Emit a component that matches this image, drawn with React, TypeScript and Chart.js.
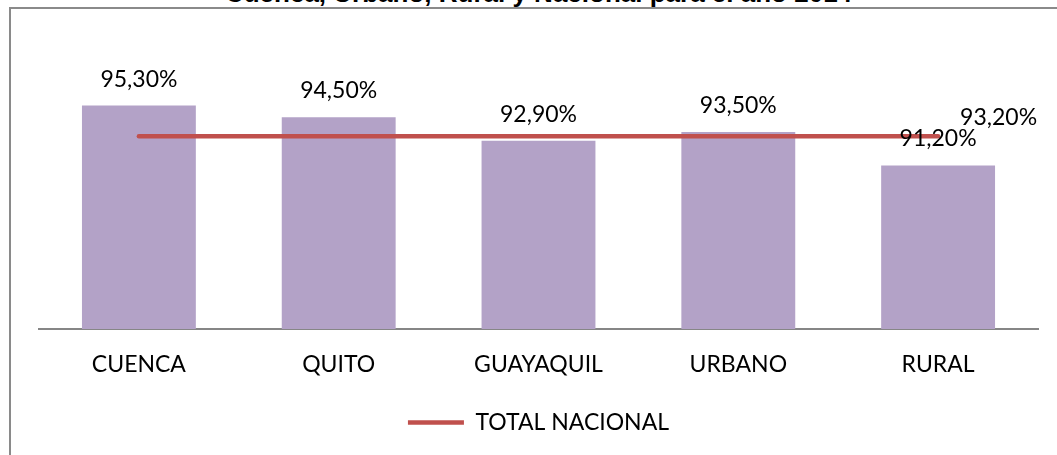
import React, { useEffect, useRef } from "react";
import { Chart, registerables } from "chart.js";

Chart.register(...registerables);

const titleText = "Cuenca, Urbano, Rural y Nacional para el año 2014";
const categories = ["CUENCA", "QUITO", "GUAYAQUIL", "URBANO", "RURAL"];
const cityValues = [95.3, 94.5, 92.9, 93.5, 91.2];
const nationalValues = [93.2, 93.2, 93.2, 93.2, 93.2];
const nationalLabel = "TOTAL NACIONAL";
const yMin = 80;
const yMax = 100;

const FONT = "Lato";
const FSIZE = 23;
const fmt = (v: number) => v.toFixed(2).replace(".", ",") + "%";

const labelPlugin = {
  id: "valueLabels",
  afterDatasetsDraw(chart: any) {
    const ctx = chart.ctx as CanvasRenderingContext2D;
    ctx.save();
    ctx.font = `${FSIZE}px ${FONT}`;
    ctx.fillStyle = "#000000";
    ctx.textBaseline = "alphabetic";
    const barMeta = chart.getDatasetMeta(1);
    barMeta.data.forEach((el: any, i: number) => {
      ctx.textAlign = "center";
      ctx.fillText(fmt(cityValues[i]), el.x, el.y - 19);
    });
    const lineMeta = chart.getDatasetMeta(0);
    const n = lineMeta.data.length - 1;
    const last = lineMeta.data[n];
    ctx.textAlign = "left";
    ctx.fillText(fmt(nationalValues[n]), last.x + 22, last.y - 11);
    ctx.restore();
  },
};

export default function App() {
  const ref = useRef<HTMLCanvasElement>(null);
  useEffect(() => {
    if (!ref.current) return;
    const chart = new Chart(ref.current, {
      type: "bar",
      data: {
        labels: categories,
        datasets: [
          {
            type: "line",
            label: nationalLabel,
            data: nationalValues,
            borderColor: "#C0504D",
            backgroundColor: "#C0504D",
            borderWidth: 4.5,
            borderCapStyle: "round",
            pointRadius: 0,
            pointHoverRadius: 0,
            order: 0,
          } as any,
          {
            type: "bar",
            label: "Ciudades",
            data: cityValues,
            backgroundColor: "#B3A2C7",
            borderWidth: 0,
            categoryPercentage: 1,
            barPercentage: 0.57,
            order: 1,
          },
        ],
      },
      options: {
        responsive: false,
        animation: false,
        layout: { padding: { left: 39, right: 19, top: 37, bottom: 11 } },
        scales: {
          x: {
            grid: { display: false },
            border: { display: true, color: "#868686", width: 2 },
            ticks: { color: "#000000", font: { family: FONT, size: FSIZE }, padding: 14 },
            afterFit: (scale: any) => {
              scale.height = 72;
            },
          },
          y: {
            display: false,
            min: yMin,
            max: yMax,
          },
        },
        plugins: {
          title: { display: false },
          tooltip: { enabled: false },
          legend: {
            display: true,
            position: "bottom",
            labels: {
              usePointStyle: true,
              pointStyle: "line",
              pointStyleWidth: 56,
              color: "#000000",
              font: { family: FONT, size: FSIZE },
              padding: 10,
              filter: (item: any) => item.datasetIndex === 0,
            },
          },
        },
      },
      plugins: [labelPlugin],
    });
    return () => chart.destroy();
  }, []);

  return (
    <div
      style={{
        position: "fixed",
        left: 0,
        top: 0,
        width: 1057,
        height: 455,
        overflow: "hidden",
        background: "#ffffff",
      }}
    >
      <div
        style={{
          position: "absolute",
          left: 9,
          top: 7,
          width: 1100,
          height: 500,
          border: "2px solid #8a8a8a",
          boxSizing: "border-box",
        }}
      />
      <div
        style={{
          position: "absolute",
          left: 0,
          width: 1077,
          top: -20,
          textAlign: "center",
          font: "bold 26px 'Liberation Sans', Arial, sans-serif",
          lineHeight: "26px",
          color: "#000000",
          whiteSpace: "nowrap",
        }}
      >
        {titleText}
      </div>
      <canvas
        ref={ref}
        width={1057}
        height={455}
        style={{ position: "absolute", left: 0, top: 0 }}
      />
    </div>
  );
}
